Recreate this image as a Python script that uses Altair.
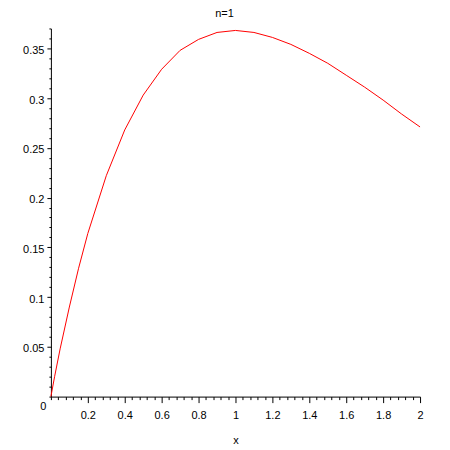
import altair as alt
import pandas as pd

xs = [0.0, 0.02, 0.05, 0.1, 0.15, 0.2, 0.3, 0.4, 0.5, 0.6, 0.7, 0.8, 0.9, 1.0,
      1.1, 1.2, 1.3, 1.4, 1.5, 1.6, 1.7, 1.8, 1.9, 2.0]
ys = [0.0, 0.020, 0.048, 0.090, 0.129, 0.164, 0.222, 0.268, 0.303, 0.329, 0.348,
      0.359, 0.366, 0.368, 0.366, 0.361, 0.354, 0.345, 0.335, 0.323, 0.311,
      0.298, 0.284, 0.271]

x_ticks = [round(i * 0.04, 2) for i in range(51)]
y_ticks = [round(i * 0.01, 2) for i in range(0, 38)]
x_labels = ["0.2", "0.4", "0.6", "0.8", "1", "1.2", "1.4", "1.6", "1.8", "2"]
y_labels = ["0", "0.05", "0.1", "0.15", "0.2", "0.25", "0.3", "0.35"]

df = pd.DataFrame({"x": xs, "y": ys})

font = "Liberation Sans"

xscale = alt.Scale(domain=[0, 2], nice=False, zero=False)
yscale = alt.Scale(domain=[0, 0.37], nice=False, zero=False)

xlab = "[" + ",".join("'%s'" % s for s in x_labels) + "]"
ylab = "[" + ",".join("'%s'" % s for s in y_labels) + "]"

chart = alt.Chart(df).mark_line(color="#ff0000", strokeWidth=1, clip=False).encode(
    x=alt.X("x:Q", scale=xscale, title="x",
            axis=alt.Axis(values=x_ticks, format=".2~f", grid=False, domainColor="black",
                          tickColor="black",
                          tickSize={"condition": {"test": "indexof(%s, format(datum.value, '.2~f')) >= 0" % xlab, "value": 6}, "value": 3},
                          labelExpr="indexof(%s, datum.label) >= 0 ? datum.label : ''" % xlab,
                          labelFont=font, labelFontSize=11, labelColor="black", labelPadding=7,
                          labelFlush=False, labelOverlap=False, labelBound=False,
                          titleFont=font, titleFontSize=11, titleFontWeight="normal",
                          titleColor="black", titlePadding=14)),
    y=alt.Y("y:Q", scale=yscale, title=None,
            axis=alt.Axis(values=y_ticks, format=".2~f", grid=False, domainColor="black",
                          tickColor="black",
                          tickSize={"condition": {"test": "indexof(%s, format(datum.value, '.2~f')) >= 0 && datum.value > 0" % ylab, "value": 4}, "value": 2},
                          labelOffset={"condition": {"test": "datum.value == 0", "value": 10}, "value": 2},
                          labelExpr="indexof(%s, datum.label) >= 0 ? datum.label : ''" % ylab,
                          labelFont=font, labelFontSize=11, labelColor="black", labelPadding=3,
                          labelFlush=False, labelOverlap=False, labelBound=False)),
).properties(
    width=370, height=369,
    background="white",
    autosize=alt.AutoSizeParams(type="none"),
    padding={"left": 43, "top": 20, "right": 22, "bottom": 50},
    title=alt.TitleParams("n=1", font=font, fontSize=11, fontWeight="normal", color="black",
                          offset=5, dx=-11),
).configure_view(stroke=None)

chart.save("out.html", embed_options={"renderer": "svg", "actions": False})
